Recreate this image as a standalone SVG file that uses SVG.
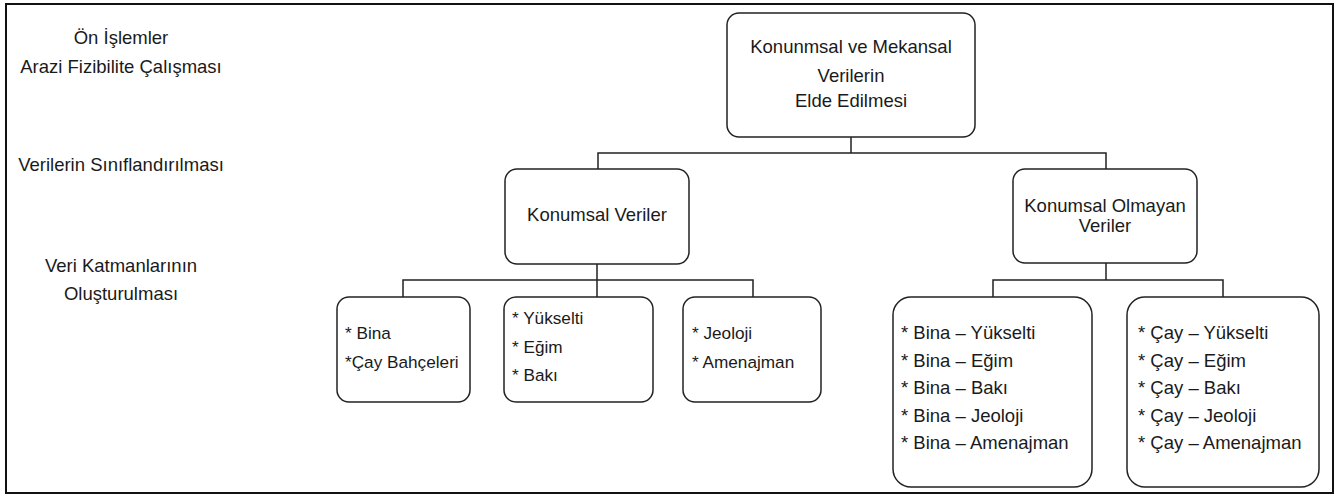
<svg xmlns="http://www.w3.org/2000/svg" width="1339" height="504" viewBox="0 0 1339 504">
<style>
.frame{fill:#fff;stroke:#111;stroke-width:2}
.box{fill:#fff;stroke:#222;stroke-width:1.5}
.con{fill:none;stroke:#222;stroke-width:1.5}
text{font-family:"Liberation Sans",Arial,sans-serif;font-size:18.5px;fill:#1a1a1a}
.c{text-anchor:middle}
.s{font-size:17.2px}
</style>
<rect class="frame" x="6" y="4" width="1327" height="489"/>
<g id="labels">
<text class="c" x="121" y="44">Ön İşlemler</text>
<text class="c" x="121" y="73">Arazi Fizibilite Çalışması</text>
<text class="c" x="121" y="171">Verilerin Sınıflandırılması</text>
<text class="c" x="121" y="272">Veri Katmanlarının</text>
<text class="c" x="121" y="300">Oluşturulması</text>
</g>
<g id="connectors">
<path class="con" d="M851 137V153M598 169V153H1106V169"/>
<path class="con" d="M597 264V280M403 297V280H753V297M597 280V297"/>
<path class="con" d="M1106 263V280M993 297V280H1223V297"/>
</g>
<g id="n-root">
<rect class="box" x="727" y="13" width="248" height="124" rx="12"/>
<text class="c" x="851" y="53">Konunmsal ve Mekansal</text>
<text class="c" x="851" y="82">Verilerin</text>
<text class="c" x="851" y="107">Elde Edilmesi</text>
</g>
<g id="n-konumsal">
<rect class="box" x="505" y="169" width="184" height="95" rx="12"/>
<text class="c" x="597" y="221">Konumsal Veriler</text>
</g>
<g id="n-olmayan">
<rect class="box" x="1013" y="169" width="184" height="94" rx="12"/>
<text class="c" x="1105" y="212">Konumsal Olmayan</text>
<text class="c" x="1105" y="232">Veriler</text>
</g>
<g id="n-bina">
<rect class="box" x="337" y="297" width="133" height="105" rx="12"/>
<text class="s" x="345" y="339">* Bina</text>
<text class="s" x="345" y="368">*Çay Bahçeleri</text>
</g>
<g id="n-yukselti">
<rect class="box" x="504" y="297" width="149" height="105" rx="12"/>
<text class="s" x="512" y="324">* Yükselti</text>
<text class="s" x="512" y="353">* Eğim</text>
<text class="s" x="512" y="381">* Bakı</text>
</g>
<g id="n-jeoloji">
<rect class="box" x="683" y="297" width="138" height="105" rx="12"/>
<text class="s" x="692" y="339">* Jeoloji</text>
<text class="s" x="692" y="368">* Amenajman</text>
</g>
<g id="n-bina-kombin">
<rect class="box" x="893" y="297" width="199" height="190" rx="18"/>
<text x="901" y="339">* Bina – Yükselti</text>
<text x="901" y="367">* Bina – Eğim</text>
<text x="901" y="394">* Bina – Bakı</text>
<text x="901" y="422">* Bina – Jeoloji</text>
<text x="901" y="449">* Bina – Amenajman</text>
</g>
<g id="n-cay-kombin">
<rect class="box" x="1127" y="297" width="192" height="190" rx="18"/>
<text x="1138" y="339">* Çay – Yükselti</text>
<text x="1138" y="367">* Çay – Eğim</text>
<text x="1138" y="394">* Çay – Bakı</text>
<text x="1138" y="422">* Çay – Jeoloji</text>
<text x="1138" y="449">* Çay – Amenajman</text>
</g>
</svg>
